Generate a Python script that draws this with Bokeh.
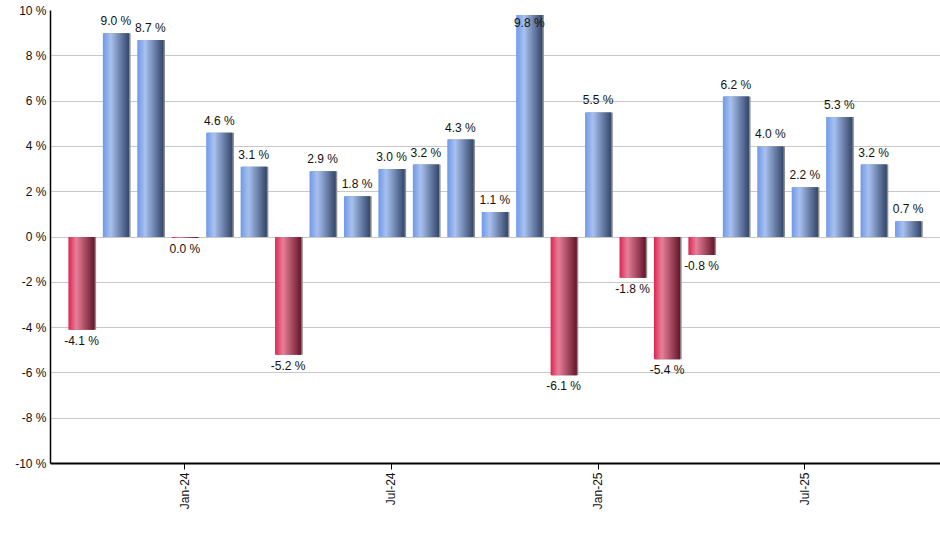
import numpy as np
from bokeh.plotting import figure
from bokeh.models import ColumnDataSource, FixedTicker, Range1d
from bokeh.core.properties import value
from bokeh.embed import file_html
from bokeh.resources import INLINE

# ---------------- data ----------------
months = ["Oct-23", "Nov-23", "Dec-23", "Jan-24", "Feb-24", "Mar-24", "Apr-24",
          "May-24", "Jun-24", "Jul-24", "Aug-24", "Sep-24", "Oct-24", "Nov-24",
          "Dec-24", "Jan-25", "Feb-25", "Mar-25", "Apr-25", "May-25", "Jun-25",
          "Jul-25", "Aug-25", "Sep-25", "Oct-25"]
returns = [-4.1, 9.0, 8.7, -0.049, 4.6, 3.1, -5.2, 2.9, 1.8, 3.0, 3.2, 4.3, 1.1,
           9.8, -6.1, 5.5, -1.8, -5.4, -0.8, 6.2, 4.0, 2.2, 5.3, 3.2, 0.7]
y_ticks = [-10, -8, -6, -4, -2, 0, 2, 4, 6, 8, 10]
x_tick_labels = ["Jan-24", "Jul-24", "Jan-25", "Jul-25"]

# ---------------- style ----------------
FONT = value("Liberation Sans")
BAR_W = 0.76
N_STRIPS = 24
BLUE_STOPS = [(0.0, "#6f98e8"), (0.3, "#a9c2f0"), (1.0, "#33466b")]
RED_STOPS = [(0.0, "#dc2450"), (0.3, "#e8809a"), (1.0, "#65152a")]
Y_MIN, Y_MAX = -10, 10


def hex2rgb(h):
    h = h.lstrip("#")
    return np.array([int(h[i:i + 2], 16) for i in (0, 2, 4)], dtype=float)


def grad_color(stops, t):
    for (t0, c0), (t1, c1) in zip(stops[:-1], stops[1:]):
        if t <= t1:
            f = (t - t0) / (t1 - t0)
            c = hex2rgb(c0) * (1 - f) + hex2rgb(c1) * f
            return "#%02x%02x%02x" % tuple(int(round(v)) for v in c)
    return stops[-1][1]


xs = np.arange(len(months), dtype=float)
vals = np.array(returns, dtype=float)

p = figure(width=940, height=545,
           x_range=Range1d(-0.9, 24.94), y_range=Range1d(Y_MIN, Y_MAX),
           output_backend="svg", toolbar_location=None,
           min_border_left=50, min_border_right=0,
           min_border_top=10, min_border_bottom=82)
p.outline_line_color = None
p.background_fill_color = "white"
p.border_fill_color = "white"

# grid
p.xgrid.grid_line_color = None
p.ygrid.ticker = FixedTicker(ticks=y_ticks)
p.ygrid.grid_line_color = "#c8c8c8"
p.ygrid.grid_line_width = 1

# shadow behind bars
shadow = ColumnDataSource(dict(
    left=xs - BAR_W / 2 + 0.045, right=xs + BAR_W / 2 + 0.045,
    top=np.maximum(vals, 0), bottom=np.minimum(vals, 0)))
p.quad(left="left", right="right", top="top", bottom="bottom", source=shadow,
       fill_color="#8c8c8c", line_color=None)

# gradient bars built from vertical strips
L, R, T, B, C = [], [], [], [], []
dw = BAR_W / N_STRIPS
for x, v in zip(xs, vals):
    stops = BLUE_STOPS if v >= 0 else RED_STOPS
    left0 = x - BAR_W / 2
    right_edge = x + BAR_W / 2
    for k in range(N_STRIPS):
        t = (k + 0.5) / N_STRIPS
        L.append(left0 + k * dw)
        R.append(min(left0 + (k + 1.6) * dw, right_edge))
        T.append(max(v, 0))
        B.append(min(v, 0))
        C.append(grad_color(stops, t))
strips = ColumnDataSource(dict(left=L, right=R, top=T, bottom=B, color=C))
p.quad(left="left", right="right", top="top", bottom="bottom", source=strips,
       fill_color="color", line_color=None)

# value labels


def fmt(v):
    s = f"{v:.1f}"
    if s == "-0.0":
        s = "0.0"
    return s + " %"


labels = [fmt(v) for v in vals]
clamp = vals > (Y_MAX - 0.6)
pos = (vals >= 0) & ~clamp
neg = vals < 0

src_pos = ColumnDataSource(dict(x=xs[pos], y=vals[pos],
                                t=[l for l, m in zip(labels, pos) if m]))
src_neg = ColumnDataSource(dict(x=xs[neg], y=vals[neg],
                                t=[l for l, m in zip(labels, neg) if m]))
src_clp = ColumnDataSource(dict(x=xs[clamp], y=np.full(clamp.sum(), Y_MAX),
                                t=[l for l, m in zip(labels, clamp) if m]))

common = dict(text="t", text_align="center", text_font=FONT,
              text_font_size="12px", text_color="#111111")
p.text(x="x", y="y", source=src_pos, text_baseline="bottom", y_offset=-5, **common)
p.text(x="x", y="y", source=src_neg, text_baseline="top", y_offset=4, **common)
p.text(x="x", y="y", source=src_clp, text_baseline="top", y_offset=5, **common)

# y axis
ya = p.yaxis[0]
ya.ticker = FixedTicker(ticks=y_ticks)
ya.major_label_overrides = {t: f"{t} %" for t in y_ticks}
ya.major_tick_out = 0
ya.major_tick_in = 0
ya.minor_tick_out = 0
ya.minor_tick_in = 0
ya.axis_line_color = "black"
ya.axis_line_width = 1.5
ya.major_label_standoff = 4
ya.major_label_text_font = "Liberation Sans"
ya.major_label_text_font_size = "12px"
ya.major_label_text_color = "#111111"

# x axis
tick_idx = [months.index(m) for m in x_tick_labels]
xa = p.xaxis[0]
xa.ticker = FixedTicker(ticks=tick_idx)
xa.major_label_overrides = {i: m for i, m in zip(tick_idx, x_tick_labels)}
xa.major_label_orientation = np.pi / 2
xa.major_tick_out = 6
xa.major_tick_in = 0
xa.minor_tick_out = 0
xa.minor_tick_in = 0
xa.major_tick_line_color = "black"
xa.axis_line_color = "black"
xa.axis_line_width = 2
xa.major_label_standoff = 3
xa.major_label_text_font = "Liberation Sans"
xa.major_label_text_font_size = "12px"
xa.major_label_text_color = "#111111"

open("out.html", "w").write(file_html(p, INLINE))
